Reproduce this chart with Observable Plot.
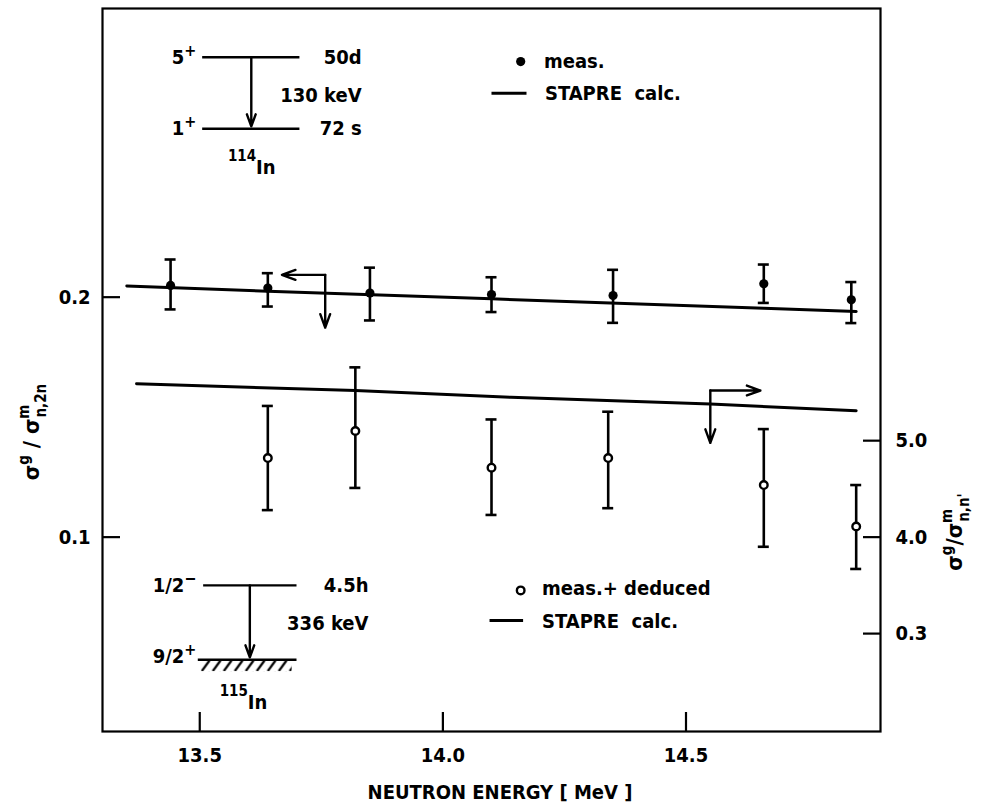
<!DOCTYPE html>
<html><head><meta charset="utf-8">
<script src="https://cdn.jsdelivr.net/npm/d3@7"></script>
<script src="https://cdn.jsdelivr.net/npm/@observablehq/plot@0.6"></script>
<style>body{margin:0;background:#fff}</style>
</head><body><div id="chart"></div>
<script>
// ---- data ----
const energy2n     = [13.44, 13.64, 13.85, 14.10, 14.35, 14.66, 14.84];
const ratio2n      = [0.2049, 0.2038, 0.2017, 0.2011, 0.2007, 0.2056, 0.1989];
const ratio2nLow   = [0.1949, 0.1961, 0.1903, 0.1938, 0.1893, 0.1976, 0.1892];
const ratio2nHigh  = [0.2157, 0.2100, 0.2123, 0.2083, 0.2114, 0.2136, 0.2063];
const calc2nEnergy = [13.35, 13.64, 14.10, 14.66, 14.85];
const calc2nRatio  = [0.2047, 0.2025, 0.1993, 0.1954, 0.1940];

const energyNN     = [13.64, 13.82, 14.10, 14.34, 14.66, 14.85];
const ratioNN      = [4.82, 5.10, 4.72, 4.82, 4.54, 4.11];
const ratioNNLow   = [4.28, 4.51, 4.23, 4.30, 3.90, 3.67];
const ratioNNHigh  = [5.36, 5.76, 5.22, 5.30, 5.12, 4.54];
const calcNNEnergy = [13.37, 13.82, 14.14, 14.55, 14.85];
const calcNNRatio  = [5.59, 5.52, 5.45, 5.38, 5.31];

const xTicks = [13.5, 14.0, 14.5];
const leftTicks = [0.1, 0.2];
const rightTicks = [5.0, 4.0, 3.0];
const rightTickLabels = ["5.0", "4.0", "0.3"];

// secondary (right) axis alignment with the left axis
const toLeft = d3.scaleLinear().domain([3, 5]).range([0.0598, 0.1402]);

const FONT = "'DejaVu Sans Condensed', 'DejaVu Sans', sans-serif";

const meas2n = energy2n.map((e, i) => ({e, v: ratio2n[i], lo: ratio2nLow[i], hi: ratio2nHigh[i]}));
const measNN = energyNN.map((e, i) => ({e, v: toLeft(ratioNN[i]), lo: toLeft(ratioNNLow[i]), hi: toLeft(ratioNNHigh[i])}));
const calc2n = calc2nEnergy.map((e, i) => ({e, v: calc2nRatio[i]}));
const calcNN = calcNNEnergy.map((e, i) => ({e, v: toLeft(calcNNRatio[i])}));

const rightTickPos = rightTicks.map(toLeft);
const rightLabelFor = new Map(rightTickPos.map((p, i) => [p, rightTickLabels[i]]));

// ---- annotations (in data units) ----
const levelLines = [
  {x1: 13.506, x2: 13.706, y: 0.300},
  {x1: 13.506, x2: 13.706, y: 0.2702},
  {x1: 13.508, x2: 13.700, y: 0.0799},
  {x1: 13.497, x2: 13.700, y: 0.0489}
];
const decayArrows = [
  {x1: 13.606, y1: 0.300, x2: 13.606, y2: 0.2712},
  {x1: 13.603, y1: 0.0799, x2: 13.603, y2: 0.0499}
];
const pointers = [
  {x1: 13.758, y1: 0.2093, x2: 13.669, y2: 0.2093},
  {x1: 13.758, y1: 0.2093, x2: 13.758, y2: 0.1873},
  {x1: 14.550, y1: toLeft(5.52), x2: 14.653, y2: toLeft(5.52)},
  {x1: 14.550, y1: toLeft(5.52), x2: 14.550, y2: toLeft(4.977)}
];
const endTexts = [
  {x: 13.833, y: 0.300, t: "50d"},
  {x: 13.833, y: 0.2840, t: "130 keV"},
  {x: 13.833, y: 0.2702, t: "72 s"},
  {x: 13.847, y: 0.0799, t: "4.5h"},
  {x: 13.847, y: 0.0639, t: "336 keV"}
];
const startTexts = [
  {x: 14.208, y: 0.2982, t: "meas."},
  {x: 14.210, y: 0.2850, t: "STAPRE\u00a0 calc."},
  {x: 14.204, y: 0.0785, t: "meas.+ deduced"},
  {x: 14.204, y: 0.0649, t: "STAPRE\u00a0 calc."}
];
const legendLines = [
  {x1: 14.101, x2: 14.173, y: 0.2850},
  {x1: 14.097, x2: 14.166, y: 0.0653}
];
const legendFilled = [{x: 14.160, y: 0.2982}];
const legendOpen = [{x: 14.160, y: 0.0778}];

const BW = 2.6;
const CAP = -5.5;
const chart = Plot.plot({
  width: 982, height: 810,
  marginLeft: 102, marginRight: 102, marginTop: 8, marginBottom: 79,
  x: {domain: [13.3, 14.9]},
  y: {domain: [0.019, 0.3203]},
  style: {fontFamily: FONT, fontSize: "20px", fontWeight: "bold", color: "#000", background: "#fff", overflow: "visible"},
  marks: [
    Plot.frame({stroke: "#000", strokeWidth: 2.2}),
    Plot.axisX({ticks: xTicks, tickFormat: d3.format(".1f"), tickSize: -19, tickPadding: 35, strokeWidth: 2.2, label: null}),
    Plot.axisY({anchor: "left", ticks: leftTicks, tickFormat: d3.format(".1f"), tickSize: -18, tickPadding: 30, strokeWidth: 2.2, label: null}),
    Plot.axisY({anchor: "right", ticks: rightTickPos, tickFormat: d => rightLabelFor.get(d), tickSize: -18, tickPadding: 33, strokeWidth: 2.2, label: null}),
    Plot.line(calc2n, {x: "e", y: "v", stroke: "#000", strokeWidth: 3}),
    Plot.line(calcNN, {x: "e", y: "v", stroke: "#000", strokeWidth: 3}),
    Plot.ruleX(meas2n, {x: "e", y1: "lo", y2: "hi", strokeWidth: BW}),
    Plot.ruleY(meas2n, {y: "lo", x1: "e", x2: "e", insetLeft: CAP, insetRight: CAP, strokeWidth: BW}),
    Plot.ruleY(meas2n, {y: "hi", x1: "e", x2: "e", insetLeft: CAP, insetRight: CAP, strokeWidth: BW}),
    Plot.ruleX(measNN, {x: "e", y1: "lo", y2: "hi", strokeWidth: BW}),
    Plot.ruleY(measNN, {y: "lo", x1: "e", x2: "e", insetLeft: CAP, insetRight: CAP, strokeWidth: BW}),
    Plot.ruleY(measNN, {y: "hi", x1: "e", x2: "e", insetLeft: CAP, insetRight: CAP, strokeWidth: BW}),
    Plot.dot(meas2n, {x: "e", y: "v", r: 4.6, fill: "#000"}),
    Plot.dot(measNN, {x: "e", y: "v", r: 3.8, fill: "#fff", stroke: "#000", strokeWidth: 2.4}),
    // annotations
    Plot.ruleY(levelLines, {y: "y", x1: "x1", x2: "x2", strokeWidth: 2.4}),
    Plot.arrow(decayArrows, {x1: "x1", y1: "y1", x2: "x2", y2: "y2", strokeWidth: 2.4, headLength: 8, headAngle: 40}),
    Plot.arrow(pointers, {x1: "x1", y1: "y1", x2: "x2", y2: "y2", strokeWidth: 2.4, headLength: 9, headAngle: 40}),
    Plot.ruleY(legendLines, {y: "y", x1: "x1", x2: "x2", strokeWidth: 3}),
    Plot.dot(legendFilled, {x: "x", y: "y", r: 4.6, fill: "#000"}),
    Plot.dot(legendOpen, {x: "x", y: "y", r: 3.8, fill: "#fff", stroke: "#000", strokeWidth: 2.4}),
    Plot.text(endTexts, {x: "x", y: "y", text: "t", textAnchor: "end", fontSize: 20}),
    Plot.text(startTexts, {x: "x", y: "y", text: "t", textAnchor: "start", fontSize: 20})
  ]
});
document.getElementById("chart").appendChild(chart);

// ---- rich text (superscripts / subscripts) and hatching ----
const svg = d3.select(chart);
const X = v => chart.scale("x").apply(v);
const Y = v => chart.scale("y").apply(v);
const g = svg.append("g").attr("font-family", FONT).attr("font-weight", "bold").attr("fill", "#000");

function rich(parent, x, y, parts, anchor, transform) {
  const t = parent.append("text").attr("x", x).attr("y", y).attr("text-anchor", anchor || "start");
  if (transform) t.attr("transform", transform);
  for (const p of parts) {
    const s = t.append("tspan").attr("font-size", p.size || 20).text(p.t);
    if (p.dy) s.attr("dy", p.dy);
    if (p.dx) s.attr("dx", p.dx);
  }
  return t;
}

// spin / parity labels
const spins = [
  {y: 0.300, main: "5", sup: "+"},
  {y: 0.2702, main: "1", sup: "+"},
  {y: 0.0799, main: "1/2", sup: "\u2212"},
  {y: 0.0503, main: "9/2", sup: "+"}
];
for (const s of spins) {
  rich(g, X(13.494), Y(s.y) + 7, [{t: s.main, size: 20}, {t: s.sup, size: 16, dy: -8}], "end");
}
// nuclide labels
rich(g, X(13.559), Y(0.2542) + 7, [{t: "114", size: 15, dy: -13}, {t: "In", size: 20, dy: 13}], "start");
rich(g, X(13.542), Y(0.0312) + 7, [{t: "115", size: 15, dy: -13}, {t: "In", size: 20, dy: 13}], "start");

// hatching under the ground state of 115In
const defs = svg.append("defs");
const pat = defs.append("pattern").attr("id", "hatch").attr("patternUnits", "userSpaceOnUse")
  .attr("width", 11).attr("height", 12).attr("x", X(13.503)).attr("y", Y(0.0489));
pat.append("path").attr("d", "M1,12 L9,1").attr("stroke", "#000").attr("stroke-width", 2.2);
g.append("rect").attr("x", X(13.503)).attr("y", Y(0.0489) + 1)
  .attr("width", X(13.690) - X(13.503)).attr("height", 11).attr("fill", "url(#hatch)");

// axis titles
g.append("text").attr("x", 500).attr("y", 799).attr("text-anchor", "middle")
  .attr("font-size", 20).text("NEUTRON ENERGY [ MeV ]");

rich(g, 0, 0, [
  {t: "\u03c3", size: 22}, {t: "g", size: 15, dy: -10},
  {t: " / \u03c3", size: 22, dy: 10}, {t: "m", size: 15, dy: -10},
  {t: "n,2n", size: 15, dy: 17, dx: -13}
], "middle", "translate(39,432) rotate(-90)");

rich(g, 0, 0, [
  {t: "\u03c3", size: 22}, {t: "g", size: 15, dy: -10},
  {t: "/\u03c3", size: 22, dy: 10}, {t: "m", size: 15, dy: -10},
  {t: "n,n'", size: 15, dy: 17, dx: -13}
], "middle", "translate(962,532) rotate(-90)");
</script>
</body></html>
